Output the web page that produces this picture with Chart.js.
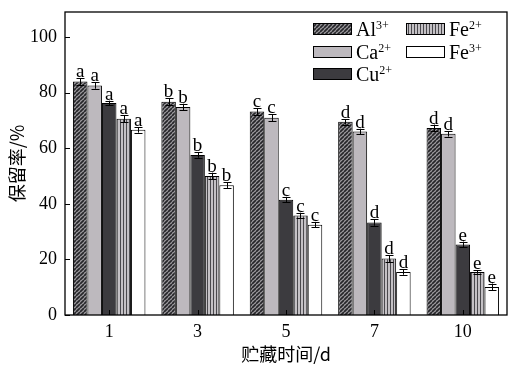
<!DOCTYPE html>
<html>
<head>
<meta charset="utf-8">
<script src="https://cdn.jsdelivr.net/npm/chart.js@4/dist/chart.umd.min.js"></script>
<style>
  html, body { margin: 0; padding: 0; background: #fff; }
  #wrap { width: 517px; height: 365px; }
</style>
</head>
<body>
<div id="wrap"><canvas id="chart" width="517" height="365"></canvas></div>
<script>
// storage time (d)
const days = ['1', '3', '5', '7', '10'];
const yTicks = [0, 20, 40, 60, 80, 100];

// retention (%) per metal ion
const al3 = [84.0, 76.7, 73.2, 69.5, 67.3];
const ca2 = [82.6, 74.8, 71.0, 66.0, 65.2];
const cu2 = [76.3, 57.6, 41.5, 33.3, 25.4];
const fe2 = [70.6, 50.0, 35.8, 20.3, 15.5];
const fe3 = [66.6, 46.7, 32.5, 15.5, 10.1];

// standard deviation
const al3Err = [1.2, 1.2, 1.2, 1.0, 1.2];
const ca2Err = [1.2, 1.2, 1.2, 1.0, 1.0];
const cu2Err = [0.8, 1.0, 1.0, 1.2, 1.0];
const fe2Err = [1.2, 1.2, 1.0, 1.2, 0.6];
const fe3Err = [1.0, 1.0, 1.0, 1.0, 1.2];

// significance letters
const al3Sig = ['a', 'b', 'c', 'd', 'd'];
const ca2Sig = ['a', 'b', 'c', 'd', 'd'];
const cu2Sig = ['a', 'b', 'c', 'd', 'e'];
const fe2Sig = ['a', 'b', 'c', 'd', 'e'];
const fe3Sig = ['a', 'b', 'c', 'd', 'e'];

const SERIF = "'Liberation Serif', 'DejaVu Serif', serif";
const CJK = "'Noto Sans CJK SC', sans-serif";

function makePattern(w, h, paint) {
  const c = document.createElement('canvas');
  c.width = w; c.height = h;
  const g = c.getContext('2d');
  paint(g, w, h);
  return g.createPattern(c, 'repeat');
}

// dark diagonal hatching
const hatch = makePattern(4, 4, (g, w, h) => {
  g.fillStyle = '#9c9a9e';
  g.fillRect(0, 0, w, h);
  g.strokeStyle = '#26262a';
  g.lineWidth = 1.7;
  g.beginPath();
  for (let k = -1; k <= 1; k++) {
    g.moveTo(k * w, h);
    g.lineTo(k * w + w, 0);
  }
  g.stroke();
});

// vertical stripes
const stripes = makePattern(3, 4, (g, w, h) => {
  g.fillStyle = '#c4c1c5';
  g.fillRect(0, 0, w, h);
  g.fillStyle = '#4a494d';
  g.fillRect(0, 0, 1, h);
});

const series = [
  { label: 'Al', sup: '3+', data: al3, err: al3Err, sig: al3Sig, fill: hatch },
  { label: 'Ca', sup: '2+', data: ca2, err: ca2Err, sig: ca2Sig, fill: '#bdb9be' },
  { label: 'Cu', sup: '2+', data: cu2, err: cu2Err, sig: cu2Sig, fill: '#3c3b3f' },
  { label: 'Fe', sup: '2+', data: fe2, err: fe2Err, sig: fe2Sig, fill: stripes },
  { label: 'Fe', sup: '3+', data: fe3, err: fe3Err, sig: fe3Sig, fill: '#ffffff' },
];

// error bars + letters above each bar
const errorBars = {
  id: 'errorBars',
  afterDatasetsDraw(chart) {
    const { ctx } = chart;
    const y = chart.scales.y;
    ctx.save();
    ctx.strokeStyle = '#000';
    ctx.lineWidth = 1;
    ctx.fillStyle = '#000';
    ctx.font = '19px ' + SERIF;
    ctx.textAlign = 'center';
    ctx.textBaseline = 'alphabetic';
    series.forEach((s, di) => {
      chart.getDatasetMeta(di).data.forEach((bar, i) => {
        const top = y.getPixelForValue(s.data[i] + s.err[i]);
        const bot = y.getPixelForValue(s.data[i] - s.err[i]);
        const x = Math.round(bar.x) + 0.5;
        ctx.beginPath();
        ctx.moveTo(x, top); ctx.lineTo(x, bot);
        ctx.moveTo(x - 4, Math.round(top) + 0.5); ctx.lineTo(x + 4, Math.round(top) + 0.5);
        ctx.moveTo(x - 4, Math.round(bot) + 0.5); ctx.lineTo(x + 4, Math.round(bot) + 0.5);
        ctx.stroke();
        ctx.fillText(s.sig[i], bar.x, top - 1);
      });
    });
    ctx.restore();
  }
};

// box frame, inward ticks and legend
const frame = {
  id: 'frame',
  afterDraw(chart) {
    const { ctx, chartArea: a } = chart;
    const x = chart.scales.x, y = chart.scales.y;
    ctx.save();
    ctx.strokeStyle = '#000';
    ctx.lineWidth = 1.3;
    ctx.strokeRect(a.left, a.top, a.right - a.left, a.bottom - a.top);
    ctx.lineWidth = 1;
    ctx.beginPath();
    yTicks.forEach(v => {
      const py = Math.round(y.getPixelForValue(v)) + 0.5;
      ctx.moveTo(a.left, py); ctx.lineTo(a.left + 5, py);
    });
    days.forEach((d, i) => {
      const px = Math.round(x.getPixelForValue(i)) + 0.5;
      ctx.moveTo(px, a.bottom); ctx.lineTo(px, a.bottom - 5);
    });
    ctx.stroke();

    // legend, two columns
    const slots = [[313, 23], [313, 46], [313, 68], [406, 23], [406, 46]];
    series.forEach((s, i) => {
      const [lx, ly] = slots[i];
      ctx.fillStyle = s.fill;
      ctx.fillRect(lx, ly, 39, 12);
      ctx.lineWidth = 1;
      ctx.strokeStyle = '#000';
      ctx.strokeRect(lx + 0.5, ly + 0.5, 38, 11);
      ctx.fillStyle = '#000';
      ctx.textAlign = 'left';
      ctx.textBaseline = 'alphabetic';
      ctx.font = '20px ' + SERIF;
      ctx.fillText(s.label, lx + 43, ly + 13);
      const w = ctx.measureText(s.label).width;
      ctx.font = '12px ' + SERIF;
      ctx.fillText(s.sup, lx + 43 + w, ly + 6);
    });
    ctx.restore();
  }
};

new Chart(document.getElementById('chart'), {
  type: 'bar',
  data: {
    labels: days,
    datasets: series.map(s => ({
      label: s.label + s.sup,
      data: s.data,
      backgroundColor: s.fill,
      borderColor: '#000',
      borderWidth: 1,
      categoryPercentage: 0.82,
      barPercentage: 1.0,
    })),
  },
  options: {
    responsive: false,
    animation: false,
    devicePixelRatio: 1,
    layout: { padding: { top: 12, right: 10, left: 0, bottom: 0 } },
    plugins: { legend: { display: false }, tooltip: { enabled: false } },
    scales: {
      x: {
        grid: { display: false, drawTicks: false },
        border: { display: false },
        ticks: { color: '#000', font: { family: SERIF, size: 18 }, padding: 6 },
        title: { display: true, text: '贮藏时间/d', color: '#000', font: { family: CJK, size: 18 }, padding: { top: 0, bottom: 0 } },
        afterFit: (scale) => {
          scale.height = 50;
          scale.paddingLeft = 0;
          scale.paddingRight = 0;
        },
      },
      y: {
        min: 0,
        max: 109,
        grid: { display: false, drawTicks: false },
        border: { display: false },
        ticks: { color: '#000', font: { family: SERIF, size: 18 }, padding: 8 },
        afterBuildTicks: (scale) => { scale.ticks = yTicks.map(v => ({ value: v })); },
        title: { display: true, text: '保留率/%', color: '#000', font: { family: CJK, size: 18 }, padding: { top: 6, bottom: 0 } },
        afterFit: (scale) => {
          scale.width = 65;
          scale.paddingTop = 0;
          scale.paddingBottom = 0;
        },
      },
    },
  },
  plugins: [errorBars, frame],
});
</script>
</body>
</html>
